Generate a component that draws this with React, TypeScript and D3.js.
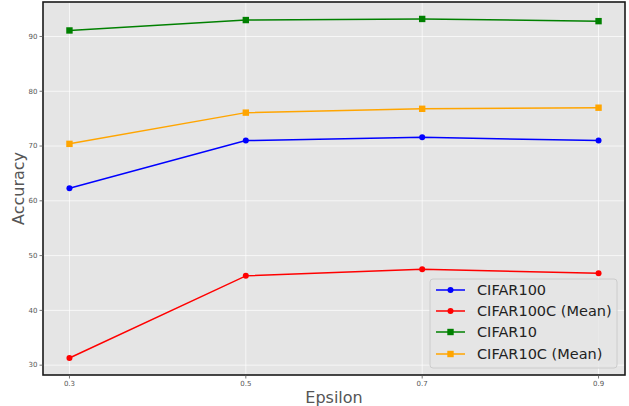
import React from "react";
import * as d3 from "d3";

const epsilons = [0.3, 0.5, 0.7, 0.9];
const cifar100 = [62.3, 71.0, 71.6, 71.0];
const cifar100c = [31.3, 46.3, 47.5, 46.8];
const cifar10 = [91.1, 93.0, 93.2, 92.8];
const cifar10c = [70.4, 76.1, 76.8, 77.0];
const yTicks = [30, 40, 50, 60, 70, 80, 90];
const xTickLabels = ["0.3", "0.5", "0.7", "0.9"];

const seriesNames = ["CIFAR100", "CIFAR100C (Mean)", "CIFAR10", "CIFAR10C (Mean)"];
const seriesColors = ["#0000ff", "#ff0000", "#008000", "#ffa500"];
const seriesMarkers = ["circle", "circle", "square", "square"];
const seriesValues = [cifar100, cifar100c, cifar10, cifar10c];

const W = 629;
const H = 406;
const L = 43, R = 625, T = 2, B = 375;

export default function App() {
  const allVals = seriesValues.flat();
  const ymin = d3.min(allVals)!, ymax = d3.max(allVals)!;
  const ypad = (ymax - ymin) * 0.05;
  const x = d3.scaleLinear().domain([0.27, 0.93]).range([L, R]);
  const y = d3.scaleLinear().domain([ymin - ypad, ymax + ypad]).range([B, T]);
  const line = d3.line<[number, number]>().x(d => x(d[0])).y(d => y(d[1]));

  const marker = (kind: string, cx: number, cy: number, color: string, key: string) =>
    kind === "circle" ? (
      <circle key={key} cx={cx} cy={cy} r={3} fill={color} />
    ) : (
      <rect key={key} x={cx - 3.2} y={cy - 3.2} width={6.4} height={6.4} fill={color} />
    );

  const legX = 430, legY = 279, legW = 187, legH = 89;
  const rowY = [290, 311, 332, 354];

  return (
    <svg width={W} height={H} style={{ position: "absolute", left: 0, top: 0 }} fontFamily="DejaVu Sans">
      <rect x={0} y={0} width={W} height={H} fill="#ffffff" />
      <rect x={L} y={T} width={R - L} height={B - T} fill="#e5e5e5" />
      {yTicks.map(t => (
        <line key={"gy" + t} x1={L} x2={R} y1={y(t)} y2={y(t)} stroke="#ffffff" strokeWidth={1} opacity={0.7} />
      ))}
      {epsilons.map(e => (
        <line key={"gx" + e} x1={x(e)} x2={x(e)} y1={T} y2={B} stroke="#ffffff" strokeWidth={1} opacity={0.7} />
      ))}
      {seriesValues.map((vals, i) => (
        <g key={seriesNames[i]}>
          <path d={line(epsilons.map((e, j) => [e, vals[j]] as [number, number]))!} fill="none" stroke={seriesColors[i]} strokeWidth={1.5} />
          {epsilons.map((e, j) => marker(seriesMarkers[i], x(e), y(vals[j]), seriesColors[i], "m" + i + "-" + j))}
        </g>
      ))}
      <rect x={L} y={T} width={R - L} height={B - T} fill="none" stroke="#1a1a1a" strokeWidth={1.6} />
      {yTicks.map(t => (
        <g key={"ty" + t}>
          <line x1={L - 3.5} x2={L} y1={y(t)} y2={y(t)} stroke="#555" strokeWidth={0.8} />
          <text x={L - 5.5} y={y(t)} dy="0.32em" textAnchor="end" fontSize={7} fill="#555">{t}</text>
        </g>
      ))}
      {epsilons.map((e, i) => (
        <g key={"tx" + e}>
          <line x1={x(e)} x2={x(e)} y1={B} y2={B + 3.5} stroke="#555" strokeWidth={0.8} />
          <text x={x(e)} y={B + 11} textAnchor="middle" fontSize={7} fill="#555">{xTickLabels[i]}</text>
        </g>
      ))}
      <text x={334} y={403} textAnchor="middle" fontSize={16} fill="#555">Epsilon</text>
      <text transform={`translate(24,${(T + B) / 2}) rotate(-90)`} textAnchor="middle" fontSize={16} fill="#555">Accuracy</text>
      <rect x={legX} y={legY} width={legW} height={legH} rx={3} fill="#e5e5e5" fillOpacity={0.8} stroke="#cccccc" strokeWidth={1} />
      {seriesNames.map((n, i) => (
        <g key={"leg" + i}>
          <line x1={436} x2={465} y1={rowY[i]} y2={rowY[i]} stroke={seriesColors[i]} strokeWidth={1.5} />
          {marker(seriesMarkers[i], 450.5, rowY[i], seriesColors[i], "lm" + i)}
          <text x={477} y={rowY[i]} dy="0.35em" fontSize={14.5} fill="#222">{n}</text>
        </g>
      ))}
    </svg>
  );
}
